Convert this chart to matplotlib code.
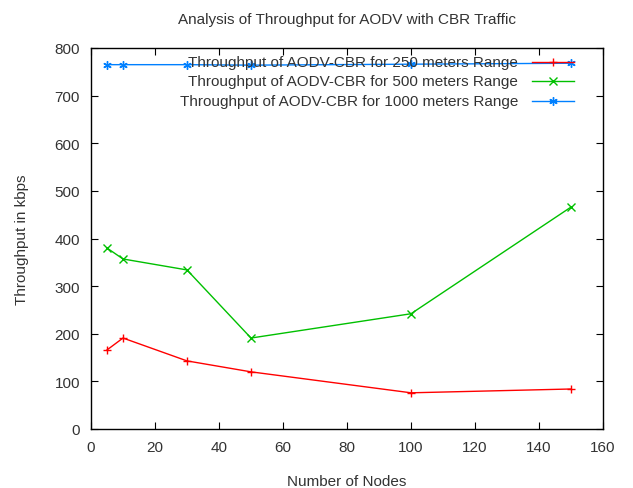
import matplotlib

matplotlib.use("Agg")
import matplotlib.pyplot as plt
from matplotlib.lines import Line2D

plt.rcParams["font.family"] = ["Liberation Sans", "DejaVu Sans"]

nodes = [5, 10, 30, 50, 100, 150]
thr_250 = [166, 191, 143, 120, 76, 84]
thr_500 = [380, 357, 334, 191, 242, 466]
thr_1000 = [765, 765, 765, 764, 766, 768]

series = [
    ("Throughput of AODV-CBR for 250 meters Range", thr_250, "#ff0000", "+"),
    ("Throughput of AODV-CBR for 500 meters Range", thr_500, "#00c000", "x"),
    ("Throughput of AODV-CBR for 1000 meters Range", thr_1000, "#0080ff", (6, 2, 0)),
]

fs = 11
txt = "#333333"

fig = plt.figure(figsize=(6.33, 4.89), dpi=100)
ax = fig.add_axes([91 / 633, 1 - 430 / 489, 512 / 633, 381 / 489])

for label, vals, color, marker in series:
    ax.plot(nodes, vals, color=color, lw=1, marker=marker, ms=6, mew=1)

ax.set_xlim(0, 160)
ax.set_ylim(0, 800)
ax.set_xticks(range(0, 161, 20))
ax.set_yticks(range(0, 801, 100))
ax.tick_params(direction="in", length=5, top=True, right=True,
               labelsize=fs, labelcolor=txt, pad=8)
for sp in ax.spines.values():
    sp.set_linewidth(1)

# gnuplot-style key: right-aligned text, sample line on the right
row_y = [63, 82, 102]
for (label, vals, color, marker), y in zip(series, row_y):
    ya = 1 - (y - 49) / 381
    ax.text((518 - 91) / 512, ya, label, transform=ax.transAxes,
            ha="right", va="center", fontsize=fs, color=txt)
    ax.add_line(Line2D([(532 - 91) / 512, (574 - 91) / 512], [ya, ya],
                       transform=ax.transAxes, color=color, lw=1))
    ax.add_line(Line2D([(553 - 91) / 512], [ya], transform=ax.transAxes,
                       color=color, marker=marker, ms=6, mew=1))

ax.set_xlabel("Number of Nodes", fontsize=fs, color=txt, labelpad=14)
ax.set_ylabel("Throughput in kbps", fontsize=fs, color=txt, labelpad=18)
ax.set_title("Analysis of Throughput for AODV with CBR Traffic", fontsize=fs,
             color=txt, pad=18)

fig.savefig("out.png", dpi=100)
